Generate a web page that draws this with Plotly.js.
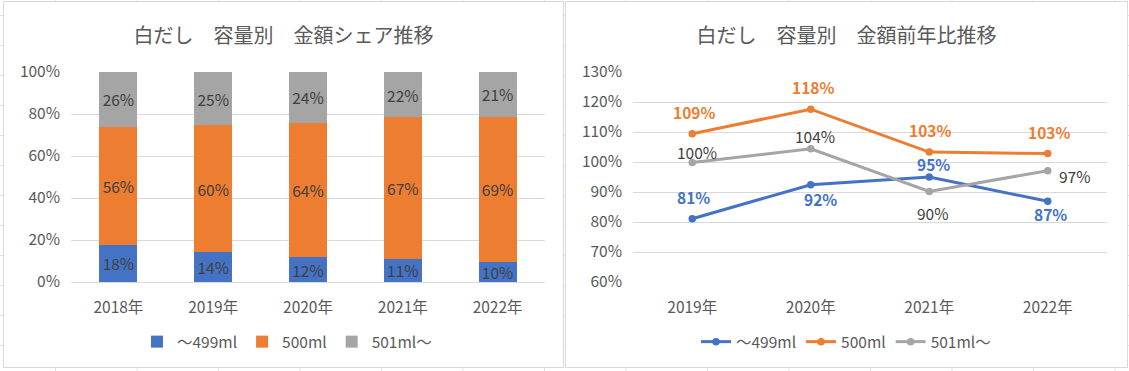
<!DOCTYPE html>
<html><head><meta charset="utf-8">
<script src="https://cdn.plot.ly/plotly-3.0.1.min.js"></script>
<style>
html,body{margin:0;padding:0;width:1129px;height:371px;overflow:hidden;background:#fff;}
body{background-image:linear-gradient(to right,#e2e2e2 1px,transparent 1px),linear-gradient(to bottom,#e2e2e2 1px,transparent 1px);background-size:81.5px 30px;background-position:55px 15px;}
.chart{position:absolute;top:1px;border:1px solid #d9d9d9;background:#fff;}
#c1{left:3px;width:559px;height:365px;}
#c2{left:565px;width:561px;height:365px;}
</style></head>
<body>
<div id="c1" class="chart"></div>
<div id="c2" class="chart"></div>
<script>
// ---- data: share chart ----
const shareYears = ['2018年','2019年','2020年','2021年','2022年'];
const shareSmall = [0.178, 0.142, 0.117, 0.111, 0.097];   // ～499ml
const shareMid   = [0.562, 0.604, 0.642, 0.673, 0.690];   // 500ml
const shareLarge = [0.260, 0.254, 0.241, 0.216, 0.213];   // 501ml～

// ---- data: year-on-year chart ----
const yoyYears = ['2019年','2020年','2021年','2022年'];
const yoySmall = [81.1, 92.4, 95.0, 86.9];
const yoyMid   = [109.4, 117.6, 103.3, 102.8];
const yoyLarge = [99.8, 104.4, 90.2, 97.1];

const seriesNames = ['～499ml','500ml','501ml～'];
const colors = ['#4472C4','#ED7D31','#A5A5A5'];

// label placement (pixel offsets, [xshift, yshift]) for line chart labels
const labelOffsets = [
  [[1,22],[10,-14],[4,13],[3,-13]],
  [[2,22],[2,22],[1,22],[1,22]],
  [[5,11],[4,13],[3,-22],[27,-5]]
];
const labelBold = [true, true, false];
const labelColors = ['#4472C4','#ED7D31','#404040'];

const FONT = '"Noto Sans CJK JP", "Noto Sans", sans-serif';
const TXT = '#595959';
const FS = 15.5;

// ---- chart 1 ----
const shareVals = [shareSmall, shareMid, shareLarge];
const barTraces = shareVals.map((vals,i)=>({
  type:'bar', x:shareYears, y:vals, name:seriesNames[i],
  marker:{color:colors[i], line:{width:0}},
  texttemplate:'%{y:.0%}', textposition:'inside', insidetextanchor:'middle', textangle:0,
  textfont:{family:FONT, size:FS, color:'#404040'}, constraintext:'none',
  hoverinfo:'skip'
}));
const layout1 = {
  width:559, height:365, barmode:'stack', bargap:0.6,
  margin:{l:67, r:18, t:70, b:85, autoexpand:false},
  paper_bgcolor:'#fff', plot_bgcolor:'#fff',
  font:{family:FONT, size:FS, color:TXT},
  title:{text:'白だし\u3000容量別\u3000金額シェア推移', font:{family:FONT, size:20, color:TXT}, x:0.5, xref:'container', y:1-34/365, yref:'container', yanchor:'middle'},
  xaxis:{type:'category', showgrid:false, showline:false, ticks:'', tickangle:0, tickfont:{size:FS,color:TXT}, ticklabelstandoff:14, fixedrange:true},
  yaxis:{range:[0,1], dtick:0.2, tick0:0, tickformat:'.0%', showgrid:true, gridcolor:'#D9D9D9', gridwidth:1, zeroline:true, zerolinecolor:'#D9D9D9', zerolinewidth:1, showline:false, ticks:'', tickfont:{size:FS,color:TXT}, ticklabelstandoff:10, fixedrange:true},
  showlegend:true,
  legend:{orientation:'h', x:(283-67)/474, xanchor:'center', y:-0.286, yanchor:'middle', font:{size:FS,color:TXT}, traceorder:'normal', itemwidth:30}
};
Plotly.newPlot('c1', barTraces, layout1, {staticPlot:true, displayModeBar:false});

// ---- chart 2 ----
const yoyVals = [yoySmall, yoyMid, yoyLarge];
const lineTraces = yoyVals.map((vals,i)=>({
  type:'scatter', mode:'lines+markers', x:yoyYears, y:vals, name:seriesNames[i],
  line:{color:colors[i], width:3}, marker:{color:colors[i], size:7.5, symbol:'circle'},
  hoverinfo:'skip'
}));
const annotations = [];
yoyVals.forEach((vals,i)=>{
  vals.forEach((v,j)=>{
    annotations.push({
      x:yoyYears[j], y:v, xref:'x', yref:'y', showarrow:false,
      text: labelBold[i] ? '<b>'+Math.round(v)+'%</b>' : Math.round(v)+'%',
      font:{family:FONT, size:FS, color:labelColors[i]},
      xanchor:'center', yanchor:'middle',
      xshift:labelOffsets[i][j][0], yshift:labelOffsets[i][j][1]
    });
  });
});
const layout2 = {
  width:561, height:365,
  margin:{l:67, r:20, t:70, b:85, autoexpand:false},
  paper_bgcolor:'#fff', plot_bgcolor:'#fff',
  font:{family:FONT, size:FS, color:TXT},
  title:{text:'白だし\u3000容量別\u3000金額前年比推移', font:{family:FONT, size:20, color:TXT}, x:0.5, xref:'container', y:1-34/365, yref:'container', yanchor:'middle'},
  xaxis:{type:'category', range:[-0.5,3.5], showgrid:false, showline:false, ticks:'', tickangle:0, tickfont:{size:FS,color:TXT}, ticklabelstandoff:14, fixedrange:true},
  yaxis:{range:[60,130], dtick:10, tick0:60, ticksuffix:'%', showgrid:true, gridcolor:'#D9D9D9', gridwidth:1, zeroline:false, showline:false, ticks:'', tickfont:{size:FS,color:TXT}, ticklabelstandoff:10, fixedrange:true},
  showlegend:true,
  legend:{orientation:'h', x:(280-67)/474, xanchor:'center', y:-0.286, yanchor:'middle', font:{size:FS,color:TXT}, traceorder:'normal', itemwidth:30},
  annotations:annotations
};
Plotly.newPlot('c2', lineTraces, layout2, {staticPlot:true, displayModeBar:false});
</script>
</body></html>
